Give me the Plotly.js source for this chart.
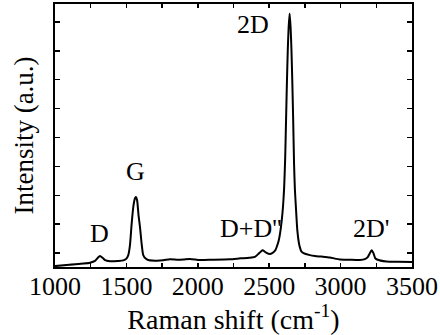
<!DOCTYPE html>
<html>
<head>
<meta charset="utf-8">
<script src="https://cdn.plot.ly/plotly-3.0.1.min.js"></script>
<style>html,body{margin:0;padding:0;background:#fff}#chart{width:440px;height:335px}</style>
</head>
<body>
<div id="chart"></div>
<script>
// Raman shift (cm^-1)
const ramanShift = [1000,1100,1200,1245,1280,1300,1315,1335,1350,1385,1440,1478,1500,1513,1525,1537,1550,1560,1567,1575,1585,1595,1607,1618,1635,1653,1700,1757,1805,1861,1900,1945,2015,2100,2225,2300,2360,2400,2430,2454,2475,2506,2530,2545,2553,2565,2575,2588,2598,2605,2612,2618,2624,2630,2636,2643,2650,2656,2662,2668,2674,2680,2688,2697,2708,2715,2725,2740,2785,2820,2870,2925,2960,2995,3060,3135,3170,3190,3205,3217,3230,3242,3255,3322,3400,3500];
// Intensity (a.u.)
const intensity = [-0.45,-0.40,-0.36,-0.33,-0.27,-0.16,-0.10,-0.17,-0.24,-0.28,-0.27,-0.25,-0.19,-0.07,0.28,1.03,1.66,1.90,1.94,1.83,1.31,0.91,0.31,-0.07,-0.19,-0.24,-0.26,-0.25,-0.21,-0.23,-0.22,-0.20,-0.24,-0.23,-0.21,-0.18,-0.16,-0.13,0.0,0.10,0.03,-0.03,0.03,0.12,0.22,0.40,0.65,1.14,1.7,2.3,3.3,4.6,5.9,7.0,7.8,8.29,7.8,7.0,5.9,4.6,3.1,2.2,1.5,0.79,0.35,0.20,0.06,0.0,-0.07,-0.10,-0.12,-0.15,-0.19,-0.22,-0.23,-0.24,-0.21,-0.14,0.0,0.10,0.0,-0.17,-0.22,-0.29,-0.30,-0.31];
// Peak labels
const peakLabels = ["D","G","D+D''","2D","2D'"];
const peakLabelX = [1315,1567,2374,2386,3211];
const peakLabelY = [0.67,2.83,0.86,7.92,0.84];
const xTickVals = [1000,1500,2000,2500,3000,3500];

const FONT = "Liberation Serif, Times New Roman, serif";

const trace = {
  x: ramanShift, y: intensity, type: 'scatter', mode: 'lines',
  line: {color: '#000', width: 2, shape: 'spline', smoothing: 0.6},
  hoverinfo: 'skip'
};

const annotations = peakLabels.map((t, i) => ({
  x: peakLabelX[i], y: peakLabelY[i], xref: 'x', yref: 'y',
  text: t, showarrow: false,
  font: {family: FONT, size: 26, color: '#000'},
  xanchor: 'center', yanchor: 'middle'
}));

const layout = {
  width: 440, height: 335,
  margin: {l: 55, r: 28, t: 4, b: 68},
  paper_bgcolor: '#fff', plot_bgcolor: '#fff',
  showlegend: false,
  font: {family: FONT, size: 26, color: '#000'},
  xaxis: {
    range: [1000, 3500], tickvals: xTickVals,
    ticks: 'inside', ticklen: 4, tickwidth: 1.5, tickcolor: '#000',
    ticklabelstandoff: -5,
    minor: {dtick: 250, tick0: 1000, ticks: 'inside', ticklen: 4, tickwidth: 1.5, tickcolor: '#000', showgrid: false},
    showline: true, linecolor: '#000', linewidth: 2, mirror: 'ticks',
    showgrid: false, zeroline: false,
    tickfont: {family: FONT, size: 26, color: '#000'},
    title: {text: 'Raman shift (cm<sup>-1</sup>)', font: {family: FONT, size: 28, color: '#000'}, standoff: 3}
  },
  yaxis: {
    range: [-0.48, 8.62], dtick: 1, tick0: 0,
    ticks: 'inside', ticklen: 5, tickwidth: 1.5, tickcolor: '#000',
    showticklabels: false,
    showline: true, linecolor: '#000', linewidth: 2, mirror: 'ticks',
    showgrid: false, zeroline: false,
    title: {text: 'Intensity (a.u.)', font: {family: FONT, size: 27, color: '#000'}, standoff: 12}
  },
  annotations: annotations
};

Plotly.newPlot('chart', [trace], layout, {staticPlot: true, displayModeBar: false});
</script>
</body>
</html>
